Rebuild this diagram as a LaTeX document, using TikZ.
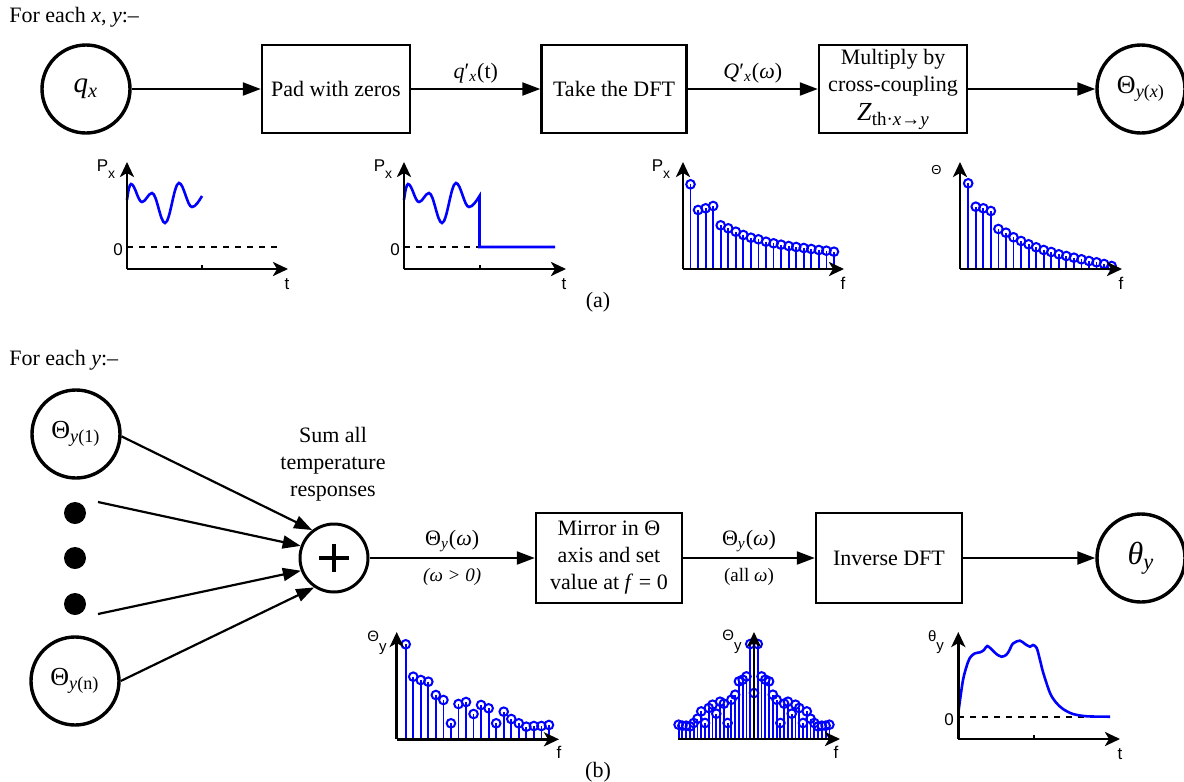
\documentclass[tikz,border=0pt]{standalone}
\usepackage{fontspec}
\setmainfont{Liberation Serif}
\newfontfamily\gsans{Liberation Sans}
\usetikzlibrary{arrows.meta}
\begin{document}
\begin{tikzpicture}[x=0.5pt,y=-0.5pt,
  txt/.style={font=\fontsize{11}{13.5}\selectfont, align=center, inner sep=0pt},
  lab/.style={font=\fontsize{11}{13}\selectfont, inner sep=0pt},
  slab/.style={font=\fontsize{9.5}{11}\selectfont, inner sep=0pt},
  blockbox/.style={draw, line width=1.2pt, minimum width=73pt, minimum height=44pt, inner sep=1pt, align=center, font=\fontsize{11}{13.5}\selectfont},
  sig/.style={draw, circle, line width=1.7pt, minimum size=44pt, inner sep=0pt},
  sumn/.style={draw, circle, line width=1.5pt, minimum size=34pt, inner sep=0pt},
  dotn/.style={circle, fill=black, minimum size=11pt, inner sep=0pt},
  conn/.style={line width=1.1pt, -{Triangle[length=9pt,width=6.5pt]}},
  axis/.style={line width=1.4pt, line join=miter},
  axtip/.style={-{Stealth[length=7.5pt,width=7pt,inset=2pt]}},
  wave/.style={blue, line width=1.3pt},
  stemline/.style={blue, line width=0.9pt},
  stemhead/.style={blue, line width=1pt},
  zline/.style={line width=1pt, dash pattern=on 3pt off 3pt},
  tick/.style={line width=0.6pt},
  glab/.style={font=\gsans\fontsize{8.5}{9}\selectfont, inner sep=0pt},
  gsub/.style={font=\gsans\fontsize{7.5}{8}\selectfont, inner sep=0pt},
]
\useasboundingbox (0,0) rectangle (1184,782);

% ---------------- (a) ----------------
\node[txt, anchor=west] (hdra) at (9,17) {For each \textit{x}, \textit{y}:–};
\node[sig] (qx) at (86,89) {\fontsize{14.5}{14}\selectfont\textit{q}\textsubscript{\textit{x}}};
\node[blockbox, minimum width=74pt] (pad) at (336,89) {Pad with zeros};
\node[blockbox, minimum width=72.5pt] (dft) at (614,89) {Take the DFT};
\node[blockbox, minimum width=74pt] (mul) at (893,89) {Multiply by\\cross-coupling\\[1pt]{\fontsize{13}{13}\selectfont\textit{Z}}\raisebox{-2.5pt}{\fontsize{9.5}{10}\selectfont th·\textit{x}→\textit{y}}};
\node[sig] (thx) at (1141,89) {\fontsize{13}{13}\selectfont Θ\textsubscript{\textit{y}(\textit{x})}};

\draw[conn] (qx) -- (pad);
\draw[conn] (pad) -- node[lab, above=2.5pt] (lq) {\textit{q}′\textsubscript{\textit{x}}(t)} (dft);
\draw[conn] (dft) -- node[lab, above=2.5pt] (lQ) {\textit{Q}′\textsubscript{\textit{x}}(\textit{ω})} (mul);
\draw[conn] (mul) -- (thx);

% graph 1
\draw[zline] (127,247) -- (278,247);
\draw[wave] (127,200) .. controls (128,192) and (129.5,184) .. (131,184)
  .. controls (135,184) and (138,202) .. (142,202)
  .. controls (145.6,202) and (148.4,193) .. (152,193)
  .. controls (156.7,193) and (160.3,223) .. (165,223)
  .. controls (170.1,223) and (173.9,183) .. (179,183)
  .. controls (183.7,183) and (187.3,207) .. (192,207)
  .. controls (195.5,207) and (199,201) .. (202,196);
\draw[axis, axtip] (127,269) -- (127,162);
\draw[axis, axtip] (127,269) -- (288,269);
\draw[tick] (202,269) -- (202,265);
\node[glab] (g1y) at (106,169) {P\raisebox{-3.5pt}{\fontsize{7}{7}\selectfont x}};
\node[glab] (g1z) at (118,250) {0};
\node[glab] (g1t) at (287,284) {t};

% graph 2
\draw[zline] (404,247) -- (480,247);
\draw[wave] (404,200) .. controls (405,192) and (406.5,184) .. (408,184)
  .. controls (412,184) and (415,202) .. (419,202)
  .. controls (422.6,202) and (425.4,193) .. (429,193)
  .. controls (433.7,193) and (437.3,223) .. (442,223)
  .. controls (447.1,223) and (450.9,183) .. (456,183)
  .. controls (460.7,183) and (464.3,207) .. (469,207)
  .. controls (472.5,207) and (476.5,201) .. (479.5,196) -- (479.5,247) -- (555,247);
\draw[axis, axtip] (404,269) -- (404,162);
\draw[axis, axtip] (404,269) -- (566,269);
\draw[tick] (480,269) -- (480,265);
\node[glab] (g2y) at (383,169) {P\raisebox{-3.5pt}{\fontsize{7}{7}\selectfont x}};
\node[glab] (g2z) at (395,250) {0};
\node[glab] (g2t) at (564,284) {t};

% graph 3
\foreach \v [count=\i from 0] in {184.3,210,208.3,206,225.3,228.3,231.7,235,237.7,239.3,241.7,243.3,244.7,246,247,248,249,250,250.7,251.7} {
  \draw[stemline] (690.5+7.55*\i,269) -- (690.5+7.55*\i,\v);
  \draw[stemhead] (690.5+7.55*\i,\v) circle[radius=2.15pt];
}
\draw[axis, axtip] (683,269) -- (683,162);
\draw[axis, axtip] (683,269) -- (844,269);
\node[glab] (g3y) at (661,169) {P\raisebox{-3.5pt}{\fontsize{7}{7}\selectfont x}};
\node[glab] (g3f) at (843,283) {f};

% graph 4
\foreach \v [count=\i from 0] in {183.3,206.7,208.3,211,229,232.7,237.3,241,244.3,247.3,250,252,254.3,256,257.7,259.3,261,262.3,264,266} {
  \draw[stemline] (968.2+7.55*\i,269) -- (968.2+7.55*\i,\v);
  \draw[stemhead] (968.2+7.55*\i,\v) circle[radius=2.15pt];
}
\draw[axis, axtip] (960,269) -- (960,162);
\draw[axis, axtip] (960,269) -- (1122,269);
\node[glab, font=\gsans\fontsize{6.5}{7}\selectfont] (g4y) at (936.5,170) {Θ};
\node[glab] (g4f) at (1121,283) {f};

\node[lab] (capa) at (598,302) {(a)};

% ---------------- (b) ----------------
\node[txt, anchor=west] (hdrb) at (9,360) {For each \textit{y}:–};
\node[sig] (t1) at (76,434) {\fontsize{13}{13}\selectfont Θ\textsubscript{\textit{y}(1)}};
\node[dotn] (d1) at (75,513) {};
\node[dotn] (d2) at (75,558) {};
\node[dotn] (d3) at (75,604) {};
\node[sig] (tn) at (75,681) {\fontsize{13}{13}\selectfont Θ\textsubscript{\textit{y}(n)}};
\node[sumn] (sum) at (334,558) {};
\draw[line width=1.8pt] (sum.center) ++(-15,0) -- ++(30,0);
\draw[line width=1.8pt] (sum.center) ++(0,-14) -- ++(0,28);
\node[txt] (sumlab) at (333,464) {Sum all\\temperature\\responses};

\coordinate (c1) at (98,502);
\coordinate (c3) at (98,614);
\draw[conn] (t1.-3) -- (sum.128);
\draw[conn] (c1) -- (sum.160);
\draw[conn] (c3) -- (sum.201);
\draw[conn] (tn.0) -- (sum.236);

\node[blockbox, minimum height=45pt] (mir) at (609,558) {Mirror in Θ\\axis and set\\value at \textit{f} = 0};
\node[blockbox, minimum height=45pt] (inv) at (889,558) {Inverse DFT};
\node[sig] (thy) at (1141,558) {\fontsize{16}{16}\selectfont\textit{θ}\textsubscript{\textit{y}}};

\draw[conn] (sum) -- node[lab, above=2.5pt] (l1a) {Θ\textsubscript{\textit{y}}(\textit{ω})} node[slab, below=4.5pt] (l1b) {\textit{(ω > 0)}} (mir);
\draw[conn] (mir) -- node[lab, above=2.5pt] (l2a) {Θ\textsubscript{\textit{y}}(\textit{ω})} node[slab, below=4.5pt] (l2b) {(all \textit{ω})} (inv);
\draw[conn] (inv) -- (thy);

% graph 5
\def\gfive{644.3,676.7,680,681.7,695,700,723.3,704,702,714,705,708.3,723.3,711.7,719,723.3,726.7,726,726,725}
\foreach \v [count=\i from 0] in \gfive {
  \draw[stemline] (405.7+7.54*\i,739.3) -- (405.7+7.54*\i,\v);
  \draw[stemhead] (405.7+7.54*\i,\v) circle[radius=2.15pt];
}
\draw[axis, axtip] (396.7,739.3) -- (396.7,632);
\draw[axis, axtip] (396.7,739.3) -- (559,739.3);
\node[glab, font=\gsans\fontsize{7.5}{8}\selectfont] (g5y) at (377,643) {Θ\raisebox{-5pt}{y}};
\node[glab] (g5f) at (559,752) {f};

% graph 6
\foreach \v [count=\i from 1] in \gfive {
  \draw[stemline] (754+3.77*\i,739) -- (754+3.77*\i,\v-0.3);
  \draw[stemhead] (754+3.77*\i,\v-0.3) circle[radius=2.15pt];
  \draw[stemline] (754-3.77*\i,739) -- (754-3.77*\i,\v-0.3);
  \draw[stemhead] (754-3.77*\i,\v-0.3) circle[radius=2.15pt];
}
\draw[stemline] (754,739) -- (754,693);
\draw[stemhead] (754,693) circle[radius=2.15pt];
\draw[axis, axtip] (678,739) -- (840,739);
\draw[axis, axtip] (754,739) -- (754,632);
\node[glab, font=\gsans\fontsize{7.5}{8}\selectfont] (g6y) at (732,642) {Θ\raisebox{-5pt}{y}};
\node[glab] (g6f) at (836,752) {f};

% graph 7
\draw[zline] (958.3,716.7) -- (1085,716.7);
\draw[wave] plot[smooth, tension=0.5] coordinates {(958.3,713) (963,680) (968,662) (971,656.5) (975,653.3) (980,652.3) (984,650) (987.3,646) (993,650.7) (997,654.5) (1001.7,656.7) (1006,655) (1009,651) (1013,643.5) (1020,640.7) (1025,644) (1030,646.7) (1033,645) (1036.7,648) (1040,660) (1043.3,673) (1050,693) (1056,702.5) (1063,709) (1073,714) (1087,716.3) (1110,716.7)};
\draw[axis, axtip] (958.3,739) -- (958.3,632);
\draw[axis, axtip] (958.3,739) -- (1120,739);
\draw[tick] (1034,739) -- (1034,735);
\node[glab, font=\gsans\fontsize{7.5}{8}\selectfont] (g7y) at (936,642) {θ\raisebox{-4.5pt}{y}};
\node[glab] (g7z) at (949,720) {0};
\node[glab] (g7t) at (1120,754) {t};

\node[lab] (capb) at (598,772) {(b)};
\end{tikzpicture}
\end{document}
